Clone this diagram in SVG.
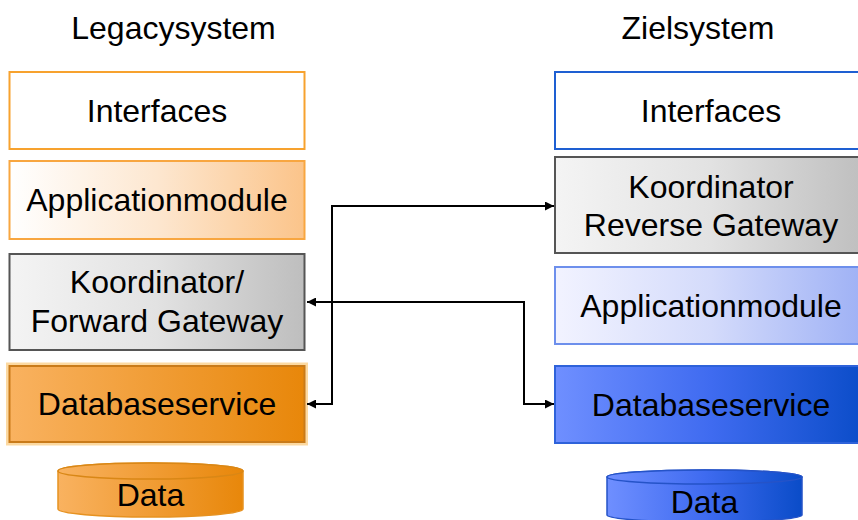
<svg xmlns="http://www.w3.org/2000/svg" width="858" height="520" viewBox="0 0 858 520">
<defs>
<style>
text{font-family:"Liberation Sans",Arial,sans-serif;font-size:32px;fill:#000;text-anchor:middle}
.conn{fill:none;stroke:#000;stroke-width:2}
</style>
<linearGradient id="gOrLight" x1="0" x2="1" y1="0" y2="0"><stop offset="0" stop-color="#FFFFFF"/><stop offset="0.5" stop-color="#FDE7D0"/><stop offset="1" stop-color="#FBC48A"/></linearGradient>
<linearGradient id="gGray" x1="0" x2="1" y1="0" y2="0"><stop offset="0" stop-color="#F4F4F4"/><stop offset="0.5" stop-color="#E2E2E2"/><stop offset="1" stop-color="#BEBEBE"/></linearGradient>
<linearGradient id="gOrDark" x1="0" x2="1" y1="0" y2="0"><stop offset="0" stop-color="#F9B260"/><stop offset="1" stop-color="#E8870A"/></linearGradient>
<linearGradient id="gBlLight" x1="0" x2="1" y1="0" y2="0"><stop offset="0" stop-color="#F2F3FF"/><stop offset="0.5" stop-color="#D4DBFB"/><stop offset="1" stop-color="#9DB0F5"/></linearGradient>
<linearGradient id="gBlDark" x1="0" x2="1" y1="0" y2="0"><stop offset="0" stop-color="#6F8FFF"/><stop offset="0.5" stop-color="#3F6BF0"/><stop offset="1" stop-color="#0A4CC8"/></linearGradient>
<marker id="arr" viewBox="0 0 10 10" refX="10" refY="5" markerWidth="9" markerHeight="9" markerUnits="userSpaceOnUse" orient="auto-start-reverse"><path d="M0,0 L10,5 L0,10 z" fill="#000"/></marker>
</defs>
<rect width="858" height="520" fill="#FFFFFF"/>

<g id="title-legacy"><text x="173.5" y="39">Legacysystem</text></g>
<g id="title-ziel"><text x="698" y="39">Zielsystem</text></g>

<g id="legacy-interfaces">
<rect x="9.5" y="72" width="295" height="77" fill="#FFFFFF" stroke="#F7A22E" stroke-width="2"/>
<text x="157" y="122">Interfaces</text>
</g>
<g id="legacy-applicationmodule">
<rect x="9.5" y="161" width="295" height="78" fill="url(#gOrLight)" stroke="#F8A640" stroke-width="2"/>
<text x="157" y="211">Applicationmodule</text>
</g>
<g id="legacy-koordinator">
<rect x="9.5" y="254" width="295" height="96" fill="url(#gGray)" stroke="#555555" stroke-width="2"/>
<text x="157" y="293">Koordinator/</text>
<text x="157" y="332">Forward Gateway</text>
</g>
<g id="legacy-databaseservice">
<rect x="8.5" y="365" width="297" height="78" fill="none" stroke="#FBD08A" stroke-width="5" opacity="0.8"/>
<rect x="9.5" y="366" width="295" height="76" fill="url(#gOrDark)" stroke="#C97B1A" stroke-width="2"/>
<text x="157" y="415">Databaseservice</text>
</g>
<g id="legacy-data">
<path d="M58,471 V509 A92.5,8 0 0 0 243,509 V471 A92.5,8 0 0 0 58,471 Z" fill="url(#gOrDark)" stroke="#E69221" stroke-width="1.5"/>
<ellipse cx="150.5" cy="471" rx="92.5" ry="8" fill="url(#gOrDark)" stroke="#D98716" stroke-width="1.5"/>
<text x="150.5" y="506">Data</text>
</g>

<g id="ziel-interfaces">
<rect x="555" y="72" width="312" height="77" fill="#FFFFFF" stroke="#1E5FD2" stroke-width="2"/>
<text x="711" y="122">Interfaces</text>
</g>
<g id="ziel-koordinator">
<rect x="555" y="157" width="312" height="96" fill="url(#gGray)" stroke="#555555" stroke-width="2"/>
<text x="711" y="198">Koordinator</text>
<text x="711" y="236">Reverse Gateway</text>
</g>
<g id="ziel-applicationmodule">
<rect x="555" y="267" width="312" height="77" fill="url(#gBlLight)" stroke="#6D8FEC" stroke-width="2"/>
<text x="711" y="317">Applicationmodule</text>
</g>
<g id="ziel-databaseservice">
<rect x="555" y="366" width="312" height="77" fill="url(#gBlDark)" stroke="#2E62DA" stroke-width="2"/>
<text x="711" y="416">Databaseservice</text>
</g>
<g id="ziel-data">
<path d="M607,477 V515 A97.5,7 0 0 0 802,515 V477 A97.5,7 0 0 0 607,477 Z" fill="url(#gBlDark)" stroke="#2553C8" stroke-width="1.5"/>
<ellipse cx="704.5" cy="477" rx="97.5" ry="7" fill="url(#gBlDark)" stroke="#2553C8" stroke-width="1.5"/>
<text x="704.5" y="513">Data</text>
</g>

<g id="connectors">
<path class="conn" d="M307,404 H332 V206 H554" marker-start="url(#arr)" marker-end="url(#arr)"/>
<path class="conn" d="M307,302 H524 V404 H554" marker-start="url(#arr)" marker-end="url(#arr)"/>
</g>
</svg>
